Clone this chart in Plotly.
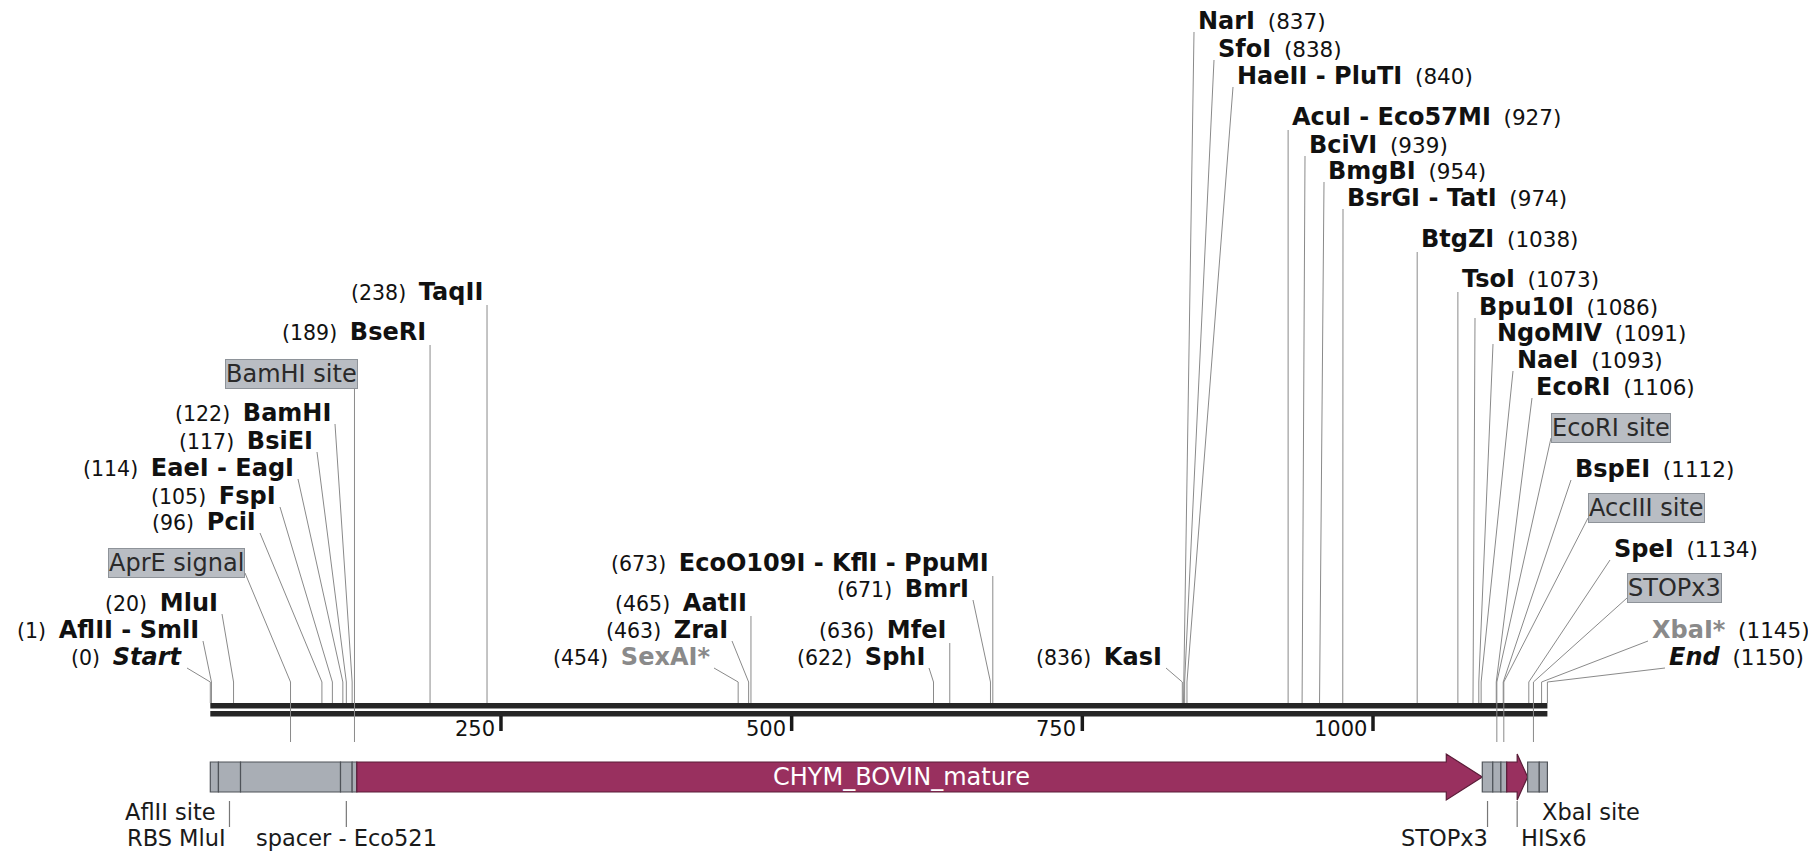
import plotly.graph_objects as go

# ---------------- data ----------------
seq_len = 1150
tick_values = [250, 500, 750, 1000]
tick_labels = ["250", "500", "750", "1000"]

left_enz_names = ["Start", "AflII - SmlI", "MluI", "PciI", "FspI", "EaeI - EagI",
                  "BsiEI", "BamHI", "BseRI", "TaqII"]
left_enz_pos = [0, 1, 20, 96, 105, 114, 117, 122, 189, 238]

mid_enz_names = ["SexAI*", "ZraI", "AatII", "SphI", "MfeI", "BmrI",
                 "EcoO109I - KflI - PpuMI", "KasI"]
mid_enz_pos = [454, 463, 465, 622, 636, 671, 673, 836]

right_enz_names = ["NarI", "SfoI", "HaeII - PluTI", "AcuI - Eco57MI", "BciVI", "BmgBI",
                   "BsrGI - TatI", "BtgZI", "TsoI", "Bpu10I", "NgoMIV", "NaeI", "EcoRI",
                   "BspEI", "SpeI", "XbaI*", "End"]
right_enz_pos = [837, 838, 840, 927, 939, 954, 974, 1038, 1073, 1086, 1091, 1093, 1106,
                 1112, 1134, 1145, 1150]

feat_names = ["AflII site", "RBS MluI", "AprE signal", "spacer - Eco521", "BamHI site",
              "CHYM_BOVIN_mature", "STOPx3", "EcoRI site", "AccIII site", "HISx6",
              "STOPx3", "XbaI site"]
feat_start = [0, 7, 26, 112, 122, 126, 1094, 1103, 1110, 1115, 1133, 1143]
feat_end = [7, 26, 112, 122, 126, 1094, 1103, 1110, 1115, 1133, 1143, 1150]
feat_is_cds = [False, False, False, False, False, True, False, False, False, True, False, False]

# ---------------- layout / style ----------------
PAGE_W, PAGE_H = 1816, 853
BODY_MARGIN = 8                     # default browser body margin
W, H = PAGE_W - BODY_MARGIN, PAGE_H - BODY_MARGIN
PX_PER_BP = 1.1627
X0_PX = 210.3


def bp(px):
    return (px - X0_PX) / PX_PER_BP


FONT = "DejaVu Sans"
LINE_COL = "#8a8a8a"
KNEE_Y = 682
AXIS_TOP = 703
FEAT_LINE_END = 742
BAR_TOP, BAR_BOT = 762, 792
BAR_MID = (BAR_TOP + BAR_BOT) / 2
GREY_FILL = "#a9aeb5"
GREY_EDGE = "#4f5359"
CDS_FILL = "#99305f"
CDS_EDGE = "#5a1c38"
NAME_SIZE = 24
GAP = "&nbsp;&nbsp;"

italic_names = {"Start", "End"}
grey_names = {"SexAI*", "XbaI*"}

left_label_y = [657, 630, 603, 522, 496, 468, 441, 413, 332, 292]
left_anchor_px = [187, 203, 222, 260, 280, 298, 317, 335, None, None]
mid_label_y = [657, 630, 603, 657, 630, 589, 563, 657]
mid_anchor_px = [714, 732, None, 929, None, 973, None, 1166]
right_label_y = [21, 49, 76, 117, 145, 171, 198, 239, 279, 307, 333, 360, 387, 469, 549, 630, 657]
right_anchor_px = [1194, 1214, 1233, None, 1305, 1324, 1343, None, None, 1475, 1493, 1513,
                   1532, 1571, 1610, 1648, 1665]

# feature callouts above the map: (feature index, side, label y, anchor px)
callouts = [(2, "left", 563, 245), (4, "left", 374, None),
            (7, "right", 428, 1551), (8, "right", 508, 1588), (10, "right", 588, 1627)]
# feature labels below the bar: (feature index, x px, y, xanchor, draw line)
lower_labels = [(0, 218, 812, "right", False), (1, 228, 838, "right", True),
                (3, None, 838, "center", True), (6, 1490, 838, "right", True),
                (9, 1519, 838, "left", True), (11, 1540, 812, "left", False)]

fig = go.Figure()
shapes = []
annotations = []
lx, ly = [], []


def name_html(name):
    nm = f"<b><i>{name}</i></b>" if name in italic_names else f"<b>{name}</b>"
    col = "#8a8a8a" if name in grey_names else "#111111"
    return f'<span style="font-size:{NAME_SIZE}px;color:{col}">{nm}</span>'


def num_html(pos, size):
    return f'<span style="font-size:{size}px">({pos})</span>'


def add_enzymes(names, positions, ys, anchors, side):
    for name, pos, y, a in zip(names, positions, ys, anchors):
        if a is None:
            ax = pos
            lx.extend([pos, pos, None])
            ly.extend([y + 13, AXIS_TOP, None])
        else:
            ax = bp(a)
            lx.extend([ax, pos, pos, None])
            ly.extend([y + 11, KNEE_Y, AXIS_TOP, None])
        if side == "left":
            txt = num_html(pos, 20.5) + GAP + name_html(name)
            annotations.append(dict(x=ax, y=y, text=txt, xanchor="right", yanchor="middle",
                                    xshift=-2, showarrow=False,
                                    font=dict(family=FONT, size=20, color="#111")))
        else:
            txt = name_html(name) + GAP + num_html(pos, 21.5)
            annotations.append(dict(x=ax, y=y, text=txt, xanchor="left", yanchor="middle",
                                    xshift=2, showarrow=False,
                                    font=dict(family=FONT, size=20, color="#111")))


add_enzymes(left_enz_names, left_enz_pos, left_label_y, left_anchor_px, "left")
add_enzymes(mid_enz_names, mid_enz_pos, mid_label_y, mid_anchor_px, "left")
add_enzymes(right_enz_names, right_enz_pos, right_label_y, right_anchor_px, "right")

# feature callouts above
for fi, side, y, a in callouts:
    c = (feat_start[fi] + feat_end[fi]) / 2
    if a is None:
        ax = c
        lx.extend([c, c, None])
        ly.extend([y + 13, FEAT_LINE_END, None])
        xa, xs = "right", 4
    else:
        ax = bp(a)
        lx.extend([ax, c, c, None])
        ly.extend([y + 10, KNEE_Y, FEAT_LINE_END, None])
        xa = "right" if side == "left" else "left"
        xs = 0
    annotations.append(dict(x=ax, y=y, text=feat_names[fi], xanchor=xa, yanchor="middle",
                            xshift=xs, showarrow=False, bgcolor="#b9bdc3",
                            bordercolor="#8e9399", borderwidth=1, borderpad=0,
                            font=dict(family=FONT, size=24, color="#2a2a2a")))

# lower feature labels
lx2, ly2 = [], []
for fi, xpx, y, xa, has_line in lower_labels:
    c = (feat_start[fi] + feat_end[fi]) / 2
    if has_line:
        lx2.extend([c, c, None])
        ly2.extend([801, 827, None])
    x = c if xpx is None else bp(xpx)
    annotations.append(dict(x=x, y=y, text=feat_names[fi], xanchor=xa, yanchor="middle",
                            showarrow=False, font=dict(family=FONT, size=22.5, color="#1a1a1a")))

# backbone (double line)
shapes.append(dict(type="rect", x0=0, x1=seq_len, y0=703, y1=708.5, fillcolor="#262626",
                   line=dict(width=0), layer="below"))
shapes.append(dict(type="rect", x0=0, x1=seq_len, y0=711, y1=716.5, fillcolor="#262626",
                   line=dict(width=0), layer="below"))

# ticks
for t, lab in zip(tick_values, tick_labels):
    shapes.append(dict(type="line", x0=t, x1=t, y0=716, y1=731,
                       line=dict(color="#1a1a1a", width=3.5), layer="below"))
    annotations.append(dict(x=t, y=729, text=lab, xanchor="right", yanchor="middle",
                            xshift=-4, showarrow=False,
                            font=dict(family=FONT, size=21, color="#111")))

# features on the bar
for name, s, e, cds in zip(feat_names, feat_start, feat_end, feat_is_cds):
    if cds:
        len_px = (e - s) * PX_PER_BP
        head = min(36, 0.5 * len_px) / PX_PER_BP
        xb = e - head
        path = (f"M {s},{BAR_TOP} L {xb},{BAR_TOP} L {xb},{BAR_MID - 23} L {e},{BAR_MID} "
                f"L {xb},{BAR_MID + 23} L {xb},{BAR_BOT} L {s},{BAR_BOT} Z")
        shapes.append(dict(type="path", path=path, fillcolor=CDS_FILL,
                           line=dict(color=CDS_EDGE, width=1.2)))
        if name == "CHYM_BOVIN_mature":
            annotations.append(dict(x=(s + xb) / 2, y=BAR_MID, text=name, showarrow=False,
                                    xanchor="center", yanchor="middle",
                                    font=dict(family=FONT, size=24, color="white")))
    else:
        shapes.append(dict(type="rect", x0=s, x1=e, y0=BAR_TOP, y1=BAR_BOT,
                           fillcolor=GREY_FILL, line=dict(color=GREY_EDGE, width=1.2)))

fig.add_trace(go.Scatter(x=lx, y=ly, mode="lines", line=dict(color=LINE_COL, width=1),
                         hoverinfo="skip", showlegend=False))
fig.add_trace(go.Scatter(x=lx2, y=ly2, mode="lines", line=dict(color="#777", width=1.2),
                         hoverinfo="skip", showlegend=False))

fig.update_layout(
    width=W, height=H,
    margin=dict(l=0, r=0, t=0, b=0),
    paper_bgcolor="white", plot_bgcolor="white",
    xaxis=dict(range=[bp(BODY_MARGIN), bp(PAGE_W)], visible=False, fixedrange=True),
    yaxis=dict(range=[PAGE_H, BODY_MARGIN], visible=False, fixedrange=True),
    shapes=shapes, annotations=annotations,
    showlegend=False,
)

fig.write_html("out.html")
